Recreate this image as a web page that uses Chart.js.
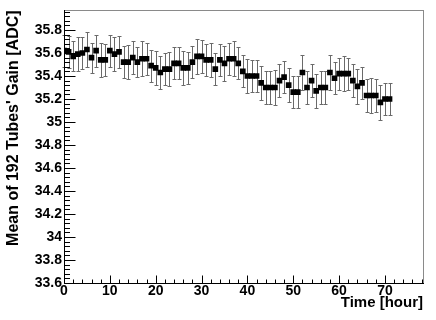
<!DOCTYPE html>
<html><head><meta charset="utf-8">
<script src="https://cdn.jsdelivr.net/npm/chart.js@4/dist/chart.umd.min.js"></script>
<style>html,body{margin:0;padding:0;background:#fff}canvas{display:block}</style>
</head><body>
<canvas id="c" width="436" height="320"></canvas>
<script>
// ---- data ----
const hours = [0,1,2,3,4,5,6,7,8,9,10,11,12,13,14,15,16,17,18,19,20,21,22,23,24,25,26,27,28,29,30,31,32,33,34,35,
  36,37,38,39,40,41,42,43,44,45,46,47,48,49,50,51,52,53,54,55,56,57,58,59,60,61,62,63,64,65,66,67,68,69,70,71];
const gain = [35.62,35.61,35.57,35.59,35.60,35.63,35.56,35.62,35.54,35.54,35.62,35.59,35.61,35.52,35.52,35.56,35.52,35.55,
  35.55,35.49,35.47,35.43,35.46,35.46,35.51,35.51,35.47,35.47,35.52,35.57,35.57,35.54,35.54,35.46,35.54,35.51,
  35.55,35.55,35.51,35.44,35.40,35.40,35.40,35.34,35.30,35.30,35.30,35.36,35.39,35.32,35.26,35.26,35.43,35.30,
  35.36,35.27,35.30,35.30,35.43,35.38,35.42,35.42,35.42,35.36,35.31,35.34,35.23,35.23,35.23,35.17,35.20,35.20];
const gainErr = [0.14,0.14,0.13,0.15,0.14,0.15,0.13,0.14,0.15,0.14,0.14,0.15,0.14,0.14,0.15,0.14,0.13,0.15,
  0.14,0.14,0.15,0.14,0.14,0.15,0.14,0.14,0.15,0.14,0.14,0.15,0.14,0.14,0.15,0.14,0.14,0.15,
  0.14,0.15,0.14,0.14,0.15,0.14,0.14,0.15,0.14,0.14,0.15,0.14,0.14,0.15,0.14,0.14,0.15,0.14,
  0.14,0.15,0.14,0.14,0.15,0.14,0.14,0.15,0.14,0.14,0.15,0.14,0.14,0.15,0.14,0.15,0.14,0.14];
const xTickLabels = [0,10,20,30,40,50,60,70];
const yTickLabels = [33.6,33.8,34,34.2,34.4,34.6,34.8,35,35.2,35.4,35.6,35.8];
const xRange = [0, 78.3];
const yRange = [33.6, 35.97];
const xTitle = 'Time [hour]';
const yTitle = "Mean of 192 Tubes' Gain [ADC]";

const FONT = 'Liberation Sans, Arial, Helvetica, sans-serif';

const errorBars = {
  id: 'errorBars',
  beforeDatasetsDraw(chart) {
    const ctx = chart.ctx, xs = chart.scales.x, ys = chart.scales.y;
    ctx.save();
    ctx.strokeStyle = '#6a6a6a';
    ctx.lineWidth = 1;
    ctx.beginPath();
    for (let i = 0; i < gain.length; i++) {
      const x = Math.round(xs.getPixelForValue(hours[i])) + 0.5;
      const yt = Math.round(ys.getPixelForValue(gain[i] + gainErr[i])) + 0.5;
      const yb = Math.round(ys.getPixelForValue(gain[i] - gainErr[i])) + 0.5;
      ctx.moveTo(x, yt); ctx.lineTo(x, yb);
      ctx.moveTo(x - 2, yt); ctx.lineTo(x + 2, yt);
      ctx.moveTo(x - 2, yb); ctx.lineTo(x + 2, yb);
    }
    ctx.stroke();
    ctx.restore();
  }
};

const frameTicks = {
  id: 'frameTicks',
  afterDraw(chart) {
    const ctx = chart.ctx, a = chart.chartArea, xs = chart.scales.x, ys = chart.scales.y;
    ctx.save();
    ctx.strokeStyle = '#8a8a8a';
    ctx.lineWidth = 1;
    ctx.strokeRect(Math.round(a.left) + 0.5, Math.round(a.top) + 0.5, Math.round(a.right - a.left), Math.round(a.bottom - a.top));
    ctx.strokeStyle = '#000';
    ctx.beginPath();
    const L = Math.round(a.left) + 0.5, B = Math.round(a.bottom) + 0.5;
    ctx.moveTo(L, Math.round(a.top)); ctx.lineTo(L, B);
    ctx.moveTo(L, B); ctx.lineTo(Math.round(a.right) + 1, B);
    for (let v = xs.min; v <= xs.max + 1e-9; v += 2) {
      const x = Math.round(xs.getPixelForValue(v)) + 0.5;
      const major = xTickLabels.indexOf(Math.round(v)) >= 0 && Math.abs(v - Math.round(v)) < 1e-6;
      ctx.moveTo(x, B); ctx.lineTo(x, B - (major ? 8 : 4));
    }
    for (let k = 0; ; k++) {
      const v = ys.min + k * 0.04;
      if (v > ys.max + 1e-9) break;
      const y = Math.round(ys.getPixelForValue(v)) + 0.5;
      const major = k % 5 === 0;
      ctx.moveTo(L, y); ctx.lineTo(L + (major ? 11 : 5.5), y);
    }
    ctx.stroke();
    ctx.restore();
  }
};

new Chart(document.getElementById('c'), {
  type: 'scatter',
  data: {
    datasets: [{
      data: hours.map((h, i) => ({ x: h, y: gain[i] })),
      showLine: false,
      pointStyle: 'rect',
      pointRadius: 4,
      pointHoverRadius: 4,
      backgroundColor: '#000',
      borderColor: '#000',
      borderWidth: 0
    }]
  },
  plugins: [errorBars, frameTicks],
  options: {
    responsive: false,
    animation: false,
    devicePixelRatio: 1,
    layout: { padding: { top: 10, right: 13, left: 0, bottom: 0 } },
    plugins: { legend: { display: false }, tooltip: { enabled: false } },
    scales: {
      x: {
        type: 'linear', min: xRange[0], max: xRange[1],
        grid: { display: false, drawTicks: false, tickLength: 0 },
        border: { display: false },
        afterBuildTicks(s) { s.ticks = xTickLabels.map(v => ({ value: v })); },
        afterFit(s) { s.height = 37; },
        ticks: { padding: 0, maxRotation: 0, autoSkip: false, color: '#000',
          font: { family: FONT, size: 14, weight: 'bold' },
          callback: v => String(v) },
        title: { display: true, text: xTitle, align: 'end', color: '#000',
          font: { family: FONT, size: 15, weight: 'bold' }, padding: { top: 0, bottom: 8 } }
      },
      y: {
        type: 'linear', min: yRange[0], max: yRange[1],
        grid: { display: false, drawTicks: false, tickLength: 0 },
        border: { display: false },
        afterBuildTicks(s) { s.ticks = yTickLabels.map(v => ({ value: v })); },
        afterFit(s) { s.width = 64; },
        ticks: { padding: 2, autoSkip: false, color: '#000',
          font: { family: FONT, size: 14, weight: 'bold' },
          callback: v => String(Number(v.toFixed(1))) },
        title: { display: true, text: yTitle, align: 'end', color: '#000',
          font: { family: FONT, size: 16, weight: 'bold' }, padding: { top: 4, bottom: 0 } }
      }
    }
  }
});
</script>
</body></html>
